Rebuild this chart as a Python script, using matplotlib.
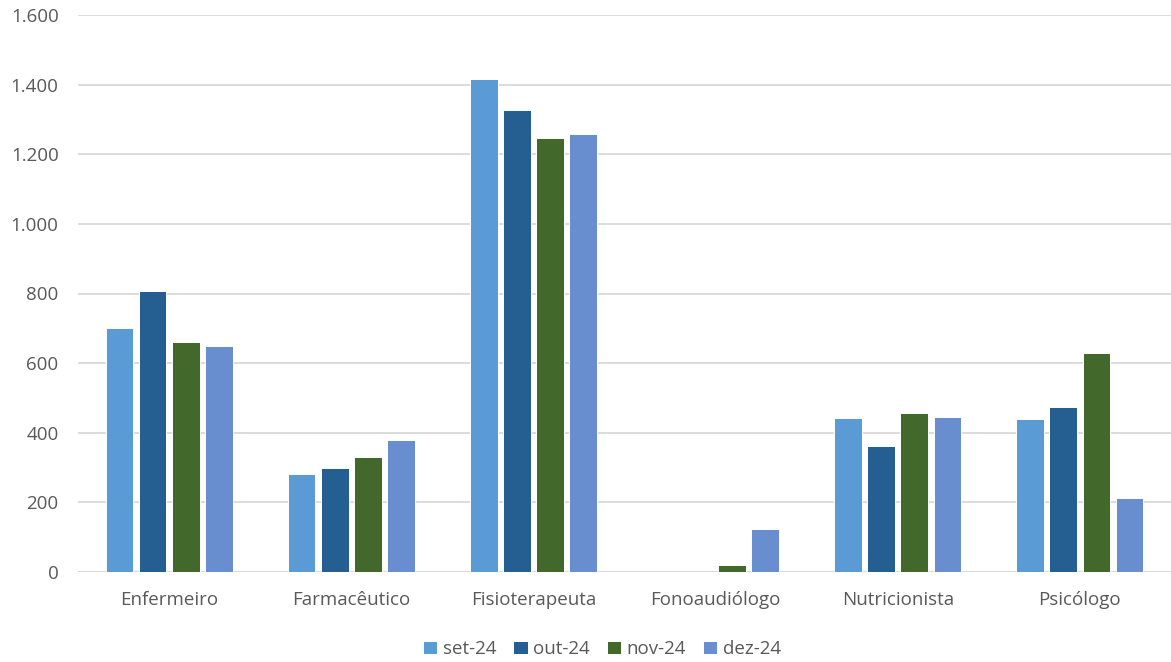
import matplotlib.pyplot as plt
import numpy as np

categories = ['Enfermeiro', 'Farmacêutico', 'Fisioterapeuta', 'Fonoaudiólogo', 'Nutricionista', 'Psicólogo']
months = ['set-24', 'out-24', 'nov-24', 'dez-24']
set24 = [701, 282, 1416, 0, 442, 440]
out24 = [807, 298, 1328, 0, 362, 473]
nov24 = [661, 330, 1246, 19, 458, 628]
dez24 = [649, 379, 1259, 124, 445, 214]
colors = ['#5B9BD5', '#255E91', '#43682B', '#698ED0']

plt.rcParams['font.family'] = ['Open Sans', 'DejaVu Sans']
text_color = '#595959'

fig = plt.figure(figsize=(11.71, 6.62), dpi=100)
ax = fig.add_axes([78 / 1171, 1 - 572 / 662, 1 - 78 / 1171, (572 - 15) / 662])

x = np.arange(len(categories))
pitch = 0.182
handles = []
for i, (vals, lab) in enumerate(zip([set24, out24, nov24, dez24], months)):
    h = ax.bar(x + (i - 1.5) * pitch, vals, width=0.152, color=colors[i],
               edgecolor='white', linewidth=0.7, label=lab, zorder=3)
    handles.append(h)

ax.set_xlim(-0.5, len(categories) - 0.5)
ax.set_ylim(0, 1600)
ax.set_yticks(range(0, 1601, 200))
ax.set_yticklabels([f'{v:,}'.replace(',', '.') for v in range(0, 1601, 200)])
ax.set_xticks(x)
ax.set_xticklabels(categories)
ax.yaxis.grid(True, color='#D9D9D9', linewidth=1.3, zorder=0)
ax.axhline(0, color='#D9D9D9', linewidth=1.3, zorder=2)
for s in ax.spines.values():
    s.set_visible(False)
ax.tick_params(axis='both', length=0, labelsize=13.5, colors=text_color)
ax.tick_params(axis='x', pad=14)
ax.tick_params(axis='y', pad=14)

fig.legend(handles=handles, labels=months, loc='center', bbox_to_anchor=(602 / 1171, 1 - 649 / 662),
           ncol=4, frameon=False, fontsize=13.5, handlelength=0.75, handleheight=0.75,
           handletextpad=0.3, columnspacing=0.9, labelcolor=text_color)

plt.savefig('out.png', dpi=100)
